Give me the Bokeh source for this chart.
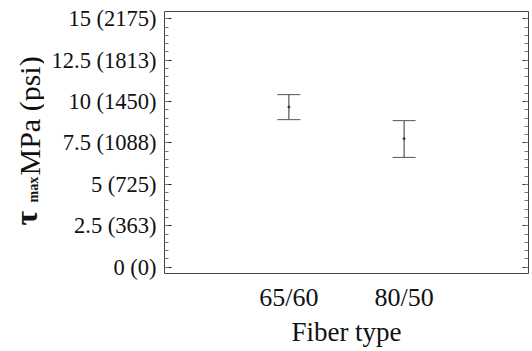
from math import pi
from bokeh.plotting import figure
from bokeh.layouts import row
from bokeh.models import (Range1d, FixedTicker, LinearAxis, Whisker, TeeHead,
                          ColumnDataSource)
from bokeh.core.properties import value
from bokeh.embed import file_html
from bokeh.resources import INLINE

# ---- data ----
fiber_types = ["65/60", "80/50"]
x_pos = [1, 2]
tau_mean = [9.67, 7.76]
tau_upper = [10.42, 8.85]
tau_lower = [8.91, 6.63]
y_ticks = [0, 2.5, 5, 7.5, 10, 12.5, 15]
y_tick_labels = ["0 (0)", "2.5 (363)", "5 (725)", "7.5 (1088)", "10 (1450)",
                 "12.5 (1813)", "15 (2175)"]
y_minor = [i * 0.5 for i in range(0, 31)]
y_title_parts = ["τ", "max", "MPa (psi)"]

FONT = "Liberation Serif"
TXT = "#111111"
W, H = 532, 351
LW = 44            # width of the strip holding the rotated y title
TOP, BOT = 11, 78  # frame borders (top / bottom), shared by both figures

p = figure(width=W - LW, height=H, output_backend="svg", toolbar_location=None,
           x_range=Range1d(-0.08, 3.08), y_range=Range1d(-0.38, 15.44),
           min_border_left=164 - LW, min_border_right=4, min_border_top=TOP,
           min_border_bottom=BOT)
p.background_fill_color = "white"
p.border_fill_color = "white"
p.outline_line_color = "#444444"
p.outline_line_width = 1
p.grid.visible = False

# y axis (left)
ya = p.yaxis[0]
ya.ticker = FixedTicker(ticks=y_ticks, minor_ticks=y_minor)
ya.major_label_overrides = {t: l for t, l in zip(y_ticks, y_tick_labels)}
ya.axis_line_color = None
ya.major_tick_in = 7
ya.major_tick_out = 0
ya.minor_tick_in = 4
ya.minor_tick_out = 0
ya.major_tick_line_color = "#222222"
ya.minor_tick_line_color = "#777777"
ya.major_label_text_font = FONT
ya.major_label_text_font_size = "22.5px"
ya.major_label_text_color = TXT
ya.major_label_standoff = 8

# right mirror axis (ticks only)
ra = LinearAxis(ticker=FixedTicker(ticks=y_ticks, minor_ticks=y_minor))
ra.major_label_overrides = {t: "" for t in y_ticks}
ra.major_label_text_font_size = "1px"
ra.major_label_standoff = 0
ra.axis_line_color = None
ra.major_tick_in = 6
ra.major_tick_out = 0
ra.minor_tick_in = 4
ra.minor_tick_out = 0
ra.major_tick_line_color = "#222222"
ra.minor_tick_line_color = "#777777"
p.add_layout(ra, "right")

# x axis
xa = p.xaxis[0]
xa.ticker = FixedTicker(ticks=x_pos, minor_ticks=[])
xa.major_label_overrides = {x: n for x, n in zip(x_pos, fiber_types)}
xa.axis_line_color = None
xa.major_tick_in = 0
xa.major_tick_out = 0
xa.major_label_text_font = FONT
xa.major_label_text_font_size = "26px"
xa.major_label_text_color = TXT
xa.major_label_standoff = 9
xa.axis_label = "Fiber type"
xa.axis_label_text_font = FONT
xa.axis_label_text_font_size = "27px"
xa.axis_label_text_font_style = "normal"
xa.axis_label_text_color = TXT
xa.axis_label_standoff = 2

# error bars
src = ColumnDataSource(dict(x=x_pos, mean=tau_mean, upper=tau_upper, lower=tau_lower))
wh = Whisker(source=src, base="x", upper="upper", lower="lower",
             line_color="#333333", line_width=1,
             upper_head=TeeHead(size=23, line_color="#555555", line_width=1),
             lower_head=TeeHead(size=23, line_color="#555555", line_width=1))
p.add_layout(wh)
p.scatter("x", "mean", source=src, size=2, color="#333333")

# ---- narrow strip with the rotated y-axis title ----
# its frame is aligned with the main frame; y data = H - canvas y
t = figure(width=LW, height=H, output_backend="svg", toolbar_location=None,
           x_range=Range1d(0, LW), y_range=Range1d(BOT, H - TOP),
           min_border_left=0, min_border_right=0, min_border_top=TOP,
           min_border_bottom=BOT, x_axis_location=None, y_axis_location=None)
t.outline_line_color = None
t.grid.visible = False
t.background_fill_color = "white"
t.border_fill_color = "white"
# tau (bold)
t.text(x=[25], y=[H - 225], text=[y_title_parts[0]], angle=pi / 2,
       text_font=value(FONT), text_font_size="32px", text_font_style="bold",
       text_color=TXT, text_align="left", text_baseline="alphabetic")
# subscript max (bold)
t.text(x=[33], y=[H - 202], text=[y_title_parts[1]], angle=pi / 2,
       text_font=value(FONT), text_font_size="14px", text_font_style="bold",
       text_color=TXT, text_align="left", text_baseline="alphabetic")
# MPa (psi)
t.text(x=[29], y=[H - 175], text=[y_title_parts[2]], angle=pi / 2,
       text_font=value(FONT), text_font_size="30px",
       text_color=TXT, text_align="left", text_baseline="alphabetic")

layout = row(t, p, spacing=0)
open("out.html", "w").write(file_html(layout, INLINE))
